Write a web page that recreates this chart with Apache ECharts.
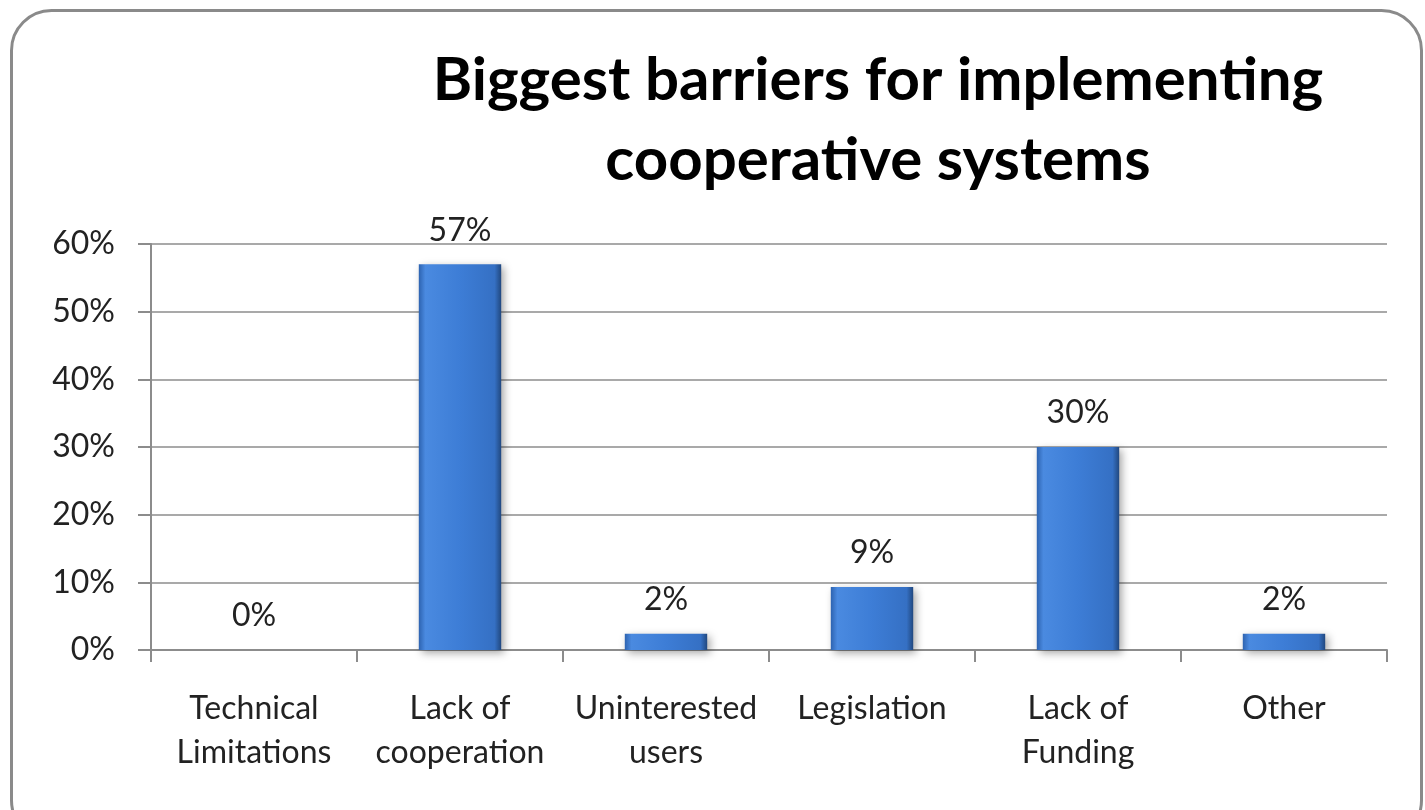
<!DOCTYPE html>
<html><head><meta charset="utf-8">
<script src="https://cdn.jsdelivr.net/npm/echarts@6/dist/echarts.min.js"></script>
<style>html,body{margin:0;padding:0;background:#fff}#c{width:1425px;height:810px}</style>
</head><body><div id="c"></div>
<script>
const titleLines = ['Biggest barriers for implementing', 'cooperative systems'];
const categories = ['Technical\nLimitations', 'Lack of\ncooperation', 'Uninterested\nusers', 'Legislation', 'Lack of\nFunding', 'Other'];
const values = [0, 0.57, 0.024, 0.093, 0.30, 0.024];
const yTicks = [0, 0.1, 0.2, 0.3, 0.4, 0.5, 0.6];

const chart = echarts.init(document.getElementById('c'));
const font = 'Lato, "Open Sans", sans-serif';
chart.setOption({
  animation: false,
  graphic: [{
    type: 'rect', left: 9, top: 8,
    shape: { width: 1410, height: 830, r: 40 },
    style: { fill: 'none', stroke: '#8a8a8a', lineWidth: 3 }
  }],
  title: {
    text: titleLines.join('\n'), left: 873, top: 36, textAlign: 'center',
    textStyle: { fontFamily: font, fontWeight: 'bold', fontSize: 60, lineHeight: 80, color: '#000' }
  },
  grid: { left: 151, right: 38, top: 244, bottom: 160 },
  xAxis: {
    type: 'category', data: categories,
    axisLine: { lineStyle: { color: '#8c8c8c', width: 2 } },
    axisTick: { show: true, length: 12, alignWithLabel: false, lineStyle: { color: '#8c8c8c', width: 2 } },
    axisLabel: { interval: 0, margin: 37, fontFamily: font, fontSize: 32, lineHeight: 44, color: '#222' }
  },
  yAxis: {
    type: 'value', min: 0, max: 0.6, interval: 0.1,
    axisLine: { show: true, lineStyle: { color: '#8c8c8c', width: 2 } },
    axisTick: { show: true, length: 13, lineStyle: { color: '#8c8c8c', width: 2 } },
    splitLine: { lineStyle: { color: '#8c8c8c', width: 1.5 } },
    axisLabel: { margin: 36, fontFamily: font, fontSize: 32, color: '#222',
      formatter: v => Math.round(v * 100) + '%' }
  },
  series: [{
    type: 'bar', data: values, barWidth: '40%',
    itemStyle: {
      color: new echarts.graphic.LinearGradient(0, 0, 1, 0, [
        { offset: 0, color: '#2d63b0' },
        { offset: 0.08, color: '#4a8ae0' },
        { offset: 0.5, color: '#3d7dd6' },
        { offset: 0.92, color: '#3570c4' },
        { offset: 1, color: '#21487f' }
      ]),
      borderWidth: 0,
      shadowColor: 'rgba(0,0,0,0.35)', shadowBlur: 8, shadowOffsetX: 3, shadowOffsetY: 3
    },
    label: {
      show: true, position: 'top', distance: 18, fontFamily: font, fontSize: 32, color: '#222',
      formatter: p => Math.round(p.value * 100) + '%'
    }
  }]
});
</script></body></html>
